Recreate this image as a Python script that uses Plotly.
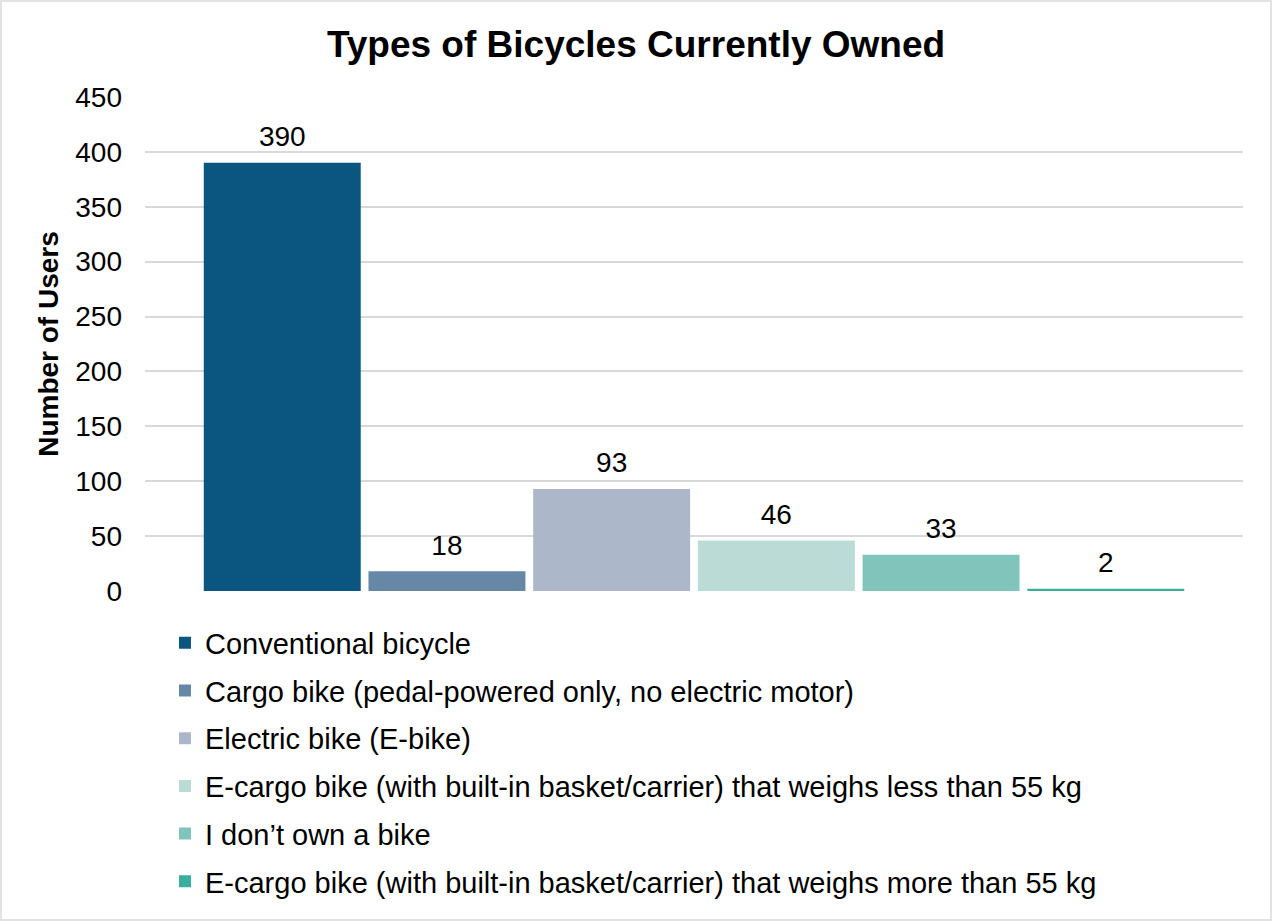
import plotly.graph_objects as go

categories = [
    "Conventional bicycle",
    "Cargo bike (pedal-powered only, no electric motor)",
    "Electric bike (E-bike)",
    "E-cargo bike (with built-in basket/carrier) that weighs less than 55 kg",
    "I don\u2019t own a bike",
    "E-cargo bike (with built-in basket/carrier) that weighs more than 55 kg",
]
values = [390, 18, 93, 46, 33, 2]
colors = ["#0B5681", "#6787A6", "#ACB8CA", "#BADBD6", "#81C4BC", "#3AAE9F"]
y_ticks = [0, 50, 100, 150, 200, 250, 300, 350, 400, 450]

FONT = "Liberation Sans, Arial, sans-serif"

fig = go.Figure()
for i, (cat, val, col) in enumerate(zip(categories, values, colors)):
    fig.add_trace(go.Bar(
        x=["all"], y=[val], name=cat,
        marker=dict(color=col, line=dict(width=0)),
        text=[f"<span style='font-size:28px'>{val}</span><br>\u00a0"],
        textposition="outside",
        textfont=dict(family=FONT, size=9, color="#000000"),
        constraintext="none",
        cliponaxis=False,
        legendgroup=f"g{i}",
    ))

fig.update_layout(
    width=1272, height=921,
    paper_bgcolor="white", plot_bgcolor="white",
    margin=dict(l=145, r=29, t=97, b=330, autoexpand=False),
    barmode="group", bargap=0.1, bargroupgap=0.047,
    title=dict(text="<b>Types of Bicycles Currently Owned</b>",
               font=dict(family=FONT, size=37, color="#000000"),
               x=0.5, xanchor="center", y=0.952, yanchor="middle"),
    font=dict(family=FONT, size=28, color="#000000"),
    showlegend=True,
    legend=dict(orientation="v", x=0.0182, xanchor="left", y=-0.0535, yanchor="top",
                font=dict(family=FONT, size=29, color="#000000"),
                tracegroupgap=7, itemclick=False),
    xaxis=dict(showticklabels=False, showgrid=False, zeroline=False,
               showline=False, ticks=""),
    yaxis=dict(range=[0, 450], tickvals=y_ticks, showgrid=True,
               gridcolor="#D9D9D9", gridwidth=1.5, zeroline=False,
               showline=False, ticks="", ticklabelstandoff=22,
               tickfont=dict(family=FONT, size=28, color="#000000"),
               title=dict(text="<b>Number of Users</b>", standoff=8,
                          font=dict(family=FONT, size=28, color="#000000"))),
    shapes=[dict(type="rect", xref="paper", yref="paper",
                 x0=-144/1098, x1=1+28/1098, y0=-329/494, y1=1+96/494,
                 line=dict(color="#D9D9D9", width=1.5), fillcolor="rgba(0,0,0,0)")],
)

fig.write_html("out.html", config={"displayModeBar": False},
               post_script="document.body.style.margin='0';")
